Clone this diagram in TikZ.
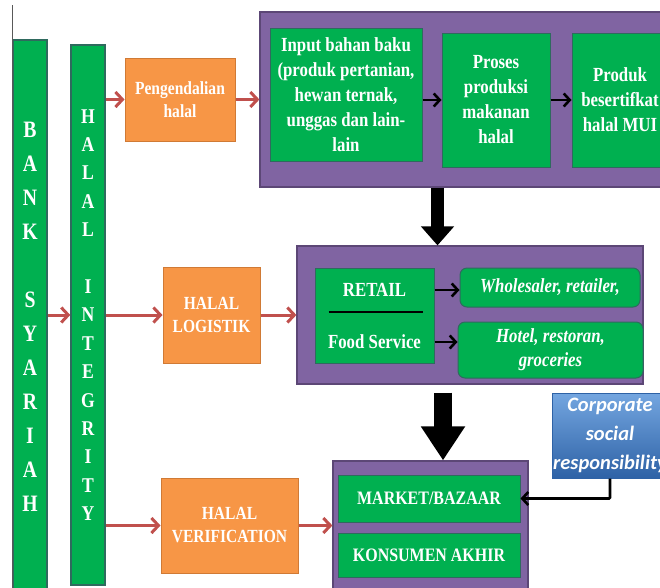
\documentclass[tikz,border=0pt]{standalone}
\usepackage{fontspec}
\usetikzlibrary{arrows.meta,calc}
\newfontfamily\diagfont[FakeStretch=0.84]{Liberation Serif}
\newfontfamily\csrfont{Carlito}
\newcommand\boxfont[2]{\diagfont\bfseries\fontsize{#1}{#2}\selectfont}
\definecolor{boxgreen}{HTML}{00B050}
\definecolor{greenline}{HTML}{2F6A5E}
\definecolor{boxpurple}{HTML}{8064A2}
\definecolor{purpleline}{HTML}{5C4776}
\definecolor{boxorange}{HTML}{F79646}
\definecolor{orangeline}{HTML}{D07A35}
\definecolor{arrowred}{HTML}{C0504D}
\definecolor{csrtop}{HTML}{74A6E0}
\definecolor{csrbottom}{HTML}{2E62A6}

\begin{document}
\begin{tikzpicture}[
  x=1pt, y=-1pt,
  greenbox/.style={draw=greenline, fill=boxgreen, line width=1pt, text=white, inner sep=0pt, align=center},
  bar/.style={greenbox, minimum width=34pt, line width=1.4pt},
  orangebox/.style={draw=orangeline, fill=boxorange, line width=1pt, text=white, inner sep=0pt, align=center, font=\boxfont{18.5}{23}},
  purplebox/.style={draw=purpleline, fill=boxpurple, line width=1.2pt, inner sep=0pt},
  roundbox/.style={greenbox, rounded corners=7pt, font=\boxfont{20}{24}\itshape},
  redarrow/.style={draw=arrowred, line width=3pt, -{Straight Barb[length=7pt,width=15pt]}},
  blackarrow/.style={line width=2.6pt, -{Straight Barb[length=6pt,width=13pt]}},
  bigarrow/.style={line width=13pt, -{Triangle[length=19pt,width=32pt]}}
]
\useasboundingbox (0,0) rectangle (660,587);
\clip (0,0) rectangle (660,587);

% left bars
\node[bar, minimum height=554pt, font=\boxfont{23.5}{34}] (bank) at (30,317)
  {B\\A\\N\\K\\[34pt]S\\Y\\A\\R\\I\\A\\H};
\draw[line width=1.5pt, gray!70!black] ([yshift=34pt]bank.north west) -- (bank.south west);
\node[bar, minimum height=540pt, font=\boxfont{21}{28.4}] (integ) at (88,315)
  {H\\A\\L\\A\\L\\[28.4pt]I\\N\\T\\E\\G\\R\\I\\T\\Y};

% orange steps
\node[orangebox, minimum width=110pt, minimum height=83pt] (pengend) at (180,99.5) {Pengendalian\\halal};
\node[orangebox, minimum width=97pt, minimum height=96pt] (logistik) at (211.5,315) {HALAL\\LOGISTIK};
\node[orangebox, minimum width=137pt, minimum height=95pt] (verif) at (229.5,525.5) {HALAL\\VERIFICATION};

% production
\node[purplebox, minimum width=410pt, minimum height=175pt] (prodbox) at (465,99.5) {};
\node[greenbox, minimum width=152pt, minimum height=133pt, font=\boxfont{20}{25}] (input) at (346,94.5)
  {Input bahan baku\\(produk pertanian,\\hewan ternak,\\unggas dan lain-\\lain};
\node[greenbox, minimum width=108pt, minimum height=134pt, font=\boxfont{20}{25}] (proses) at (496,100)
  {Proses\\produksi\\makanan\\halal};
\node[greenbox, minimum width=96pt, minimum height=134pt, font=\boxfont{20}{25}] (produk) at (620,100)
  {Produk\\besertifkat\\halal MUI};

% distribution
\node[purplebox, minimum width=346pt, minimum height=138pt] (distbox) at (470,315) {};
\node[greenbox, minimum width=119pt, minimum height=95pt] (retailbox) at (374.5,315.5) {};
\node[text=white, font=\boxfont{20}{24}] (retail) at (374.5,290) {RETAIL};
\node[text=white, font=\boxfont{20}{24}] (food) at (374.5,342) {Food Service};
\draw[line width=2.6pt] ($(retailbox.center)+(-46,-3.5)$) -- ($(retailbox.center)+(48,-3.5)$);
\node[roundbox, minimum width=180pt, minimum height=39pt] (whole) at (550,287.5) {Wholesaler, retailer,};
\node[roundbox, minimum width=185pt, minimum height=56pt] (hotel) at (550.5,350) {Hotel, restoran,\\groceries};

% market
\node[purplebox, minimum width=195pt, minimum height=134pt] (mktbox) at (430.5,528) {};
\node[greenbox, minimum width=182pt, minimum height=47pt, font=\boxfont{19}{23}] (market) at (429,498.5) {MARKET/BAZAAR};
\node[greenbox, minimum width=182pt, minimum height=44pt, font=\boxfont{19}{23}] (konsumen) at (429,555) {KONSUMEN AKHIR};
\node[draw=csrbottom, top color=csrtop, bottom color=csrbottom, line width=1pt, text=white,
  inner sep=0pt, align=center, minimum width=116pt, minimum height=85pt,
  font=\csrfont\bfseries\itshape\fontsize{20.5}{29}\selectfont] (csr) at (610,435.5)
  {Corporate\\social\\responsibility};

% connectors
\draw[redarrow] (bank.east |- logistik) -- (integ.west |- logistik);
\draw[redarrow] (integ.east |- pengend) -- (pengend.west);
\draw[redarrow] (pengend.east) -- (prodbox.west |- pengend);
\draw[redarrow] (integ.east |- logistik) -- (logistik.west);
\draw[redarrow] (logistik.east) -- (distbox.west |- logistik);
\draw[redarrow] (integ.east |- verif) -- (verif.west);
\draw[redarrow] (verif.east) -- (mktbox.west |- verif);
\draw[blackarrow] (input.east |- proses) -- (proses.west);
\draw[blackarrow] (proses.east) -- (produk.west);
\draw[blackarrow] (retailbox.east |- retail) -- (whole.west |- retail);
\draw[blackarrow] (retailbox.east |- food) -- (hotel.west |- food);
\draw[bigarrow, draw=black] ([xshift=-27.5pt]prodbox.south) -- ([xshift=-27.5pt]prodbox.south |- distbox.north);
\draw[bigarrow, line width=18pt, -{Triangle[length=34pt,width=42pt]}, shorten <=8pt]
  ([xshift=-27pt]distbox.south) -- ([xshift=-27pt]distbox.south |- mktbox.north);
\draw[blackarrow, rounded corners=1pt] (csr.south) |- (market.east);
\end{tikzpicture}
\end{document}
